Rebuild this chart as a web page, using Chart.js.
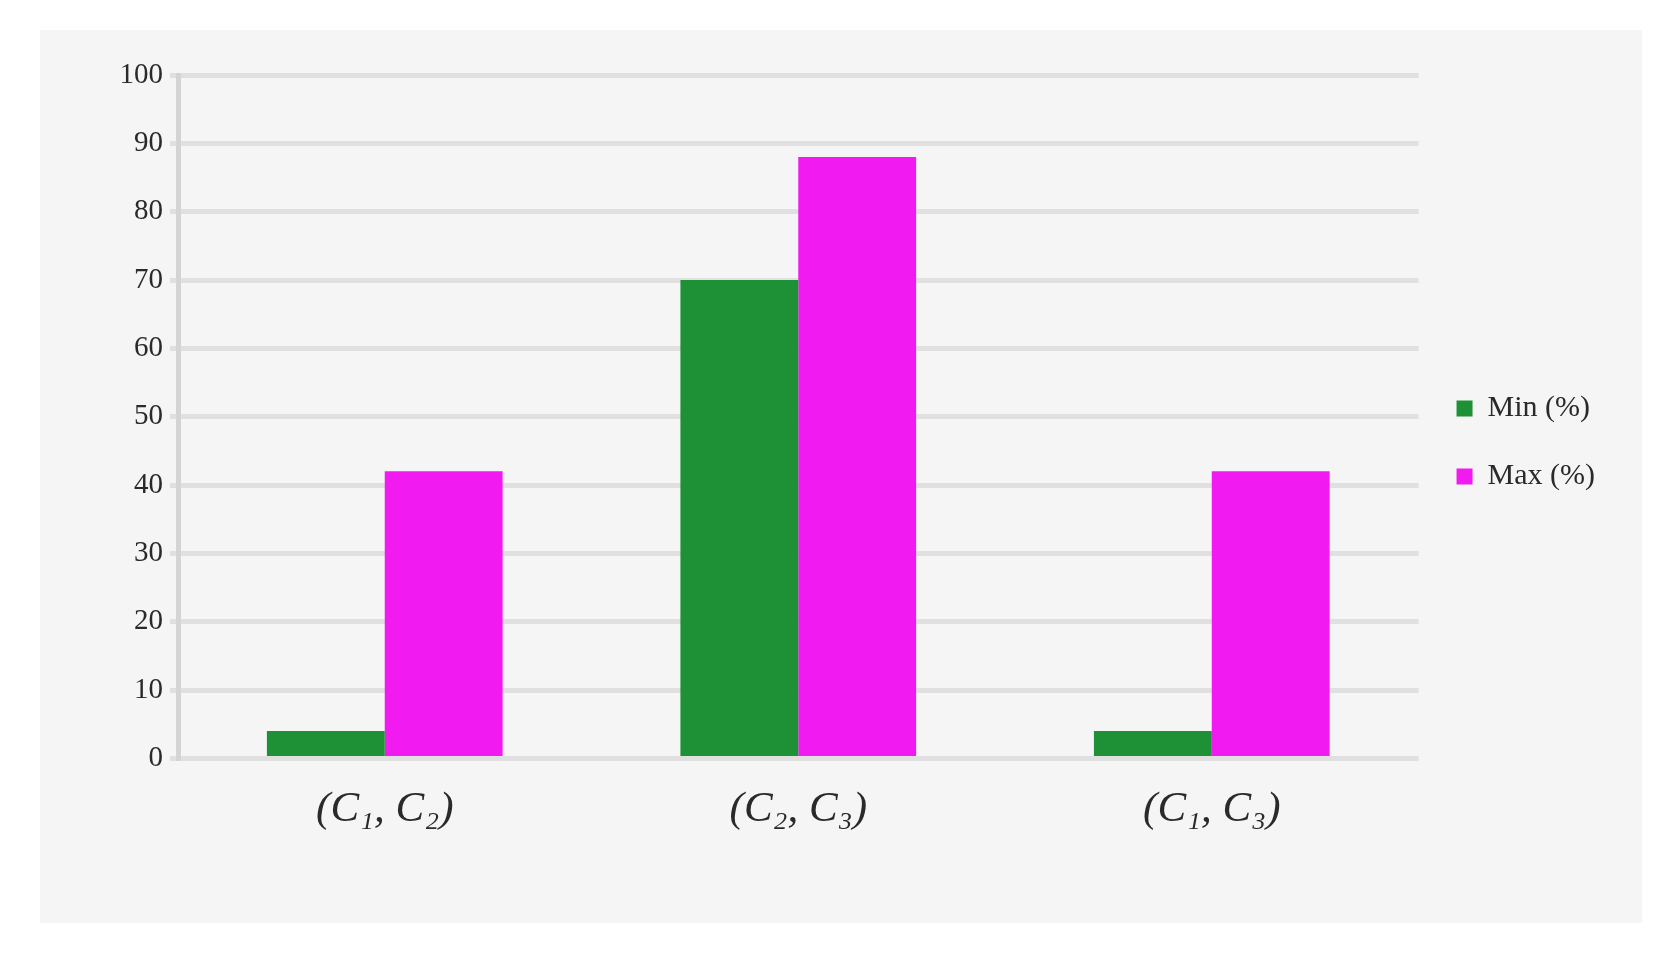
<!DOCTYPE html>
<html>
<head>
<meta charset="utf-8">
<script src="https://cdn.jsdelivr.net/npm/chart.js@4.4.0/dist/chart.umd.min.js"></script>
<style>
    html, body { margin: 0; background: #fff; }
    #panel { position: absolute; left: 40px; top: 30px; width: 1602px; height: 893px; background: #f4f5f4; }
</style>
</head>
<body>
<div id="panel"><canvas id="pairChart" width="1602" height="893"></canvas></div>
<script>
// values
const pairs = ['(C₁, C₂)', '(C₂, C₃)', '(C₁, C₃)'];
const minPct = [4, 70, 4];
const maxPct = [42, 88, 42];
const seriesNames = ['Min (%)', 'Max (%)'];
const yMin = 0;
const yMax = 100;
const yStep = 10;

const serif = "'Liberation Serif', 'DejaVu Serif', serif";

// the legend sits a little above the middle of the panel
const nudgeLegend = {
    id: 'nudgeLegend',
    afterLayout: function (chart) {
        chart.legend.top -= 26;
        chart.legend.bottom -= 26;
    }
};

var ctx = document.getElementById('pairChart').getContext('2d');
var chart = new Chart(ctx, {
    type: 'bar',
    data: {
        labels: pairs,
        datasets: [{
            label: seriesNames[0],
            data: minPct,
            backgroundColor: '#1e9137',
            borderWidth: 0
        }, {
            label: seriesNames[1],
            data: maxPct,
            backgroundColor: '#f11af0',
            borderWidth: 0
        }]
    },
    plugins: [nudgeLegend],
    options: {
        responsive: false,
        animation: false,
        layout: { padding: { top: 45, left: 0, right: 37, bottom: 61 } },
        datasets: { bar: { barPercentage: 1, categoryPercentage: 0.57 } },
        scales: {
            x: {
                grid: { display: false, drawTicks: false, tickLength: 0 },
                border: { display: false },
                ticks: {
                    color: '#2a2a2a',
                    padding: 26,
                    font: { family: serif, size: 43, style: 'italic' }
                }
            },
            y: {
                min: yMin,
                max: yMax,
                grid: { color: '#e0e0e0', lineWidth: 5, tickLength: 8 },
                border: { display: true, color: '#d4d4d4', width: 5 },
                ticks: {
                    stepSize: yStep,
                    color: '#2a2a2a',
                    padding: 7,
                    font: { family: serif, size: 29 }
                },
                afterFit: function (s) { s.width = 138; }
            }
        },
        plugins: {
            tooltip: { enabled: false },
            legend: {
                position: 'right',
                align: 'center',
                labels: {
                    boxWidth: 16,
                    boxHeight: 16,
                    padding: 38,
                    color: '#2a2a2a',
                    font: { family: serif, size: 30 }
                }
            }
        }
    }
});
</script>
</body>
</html>
